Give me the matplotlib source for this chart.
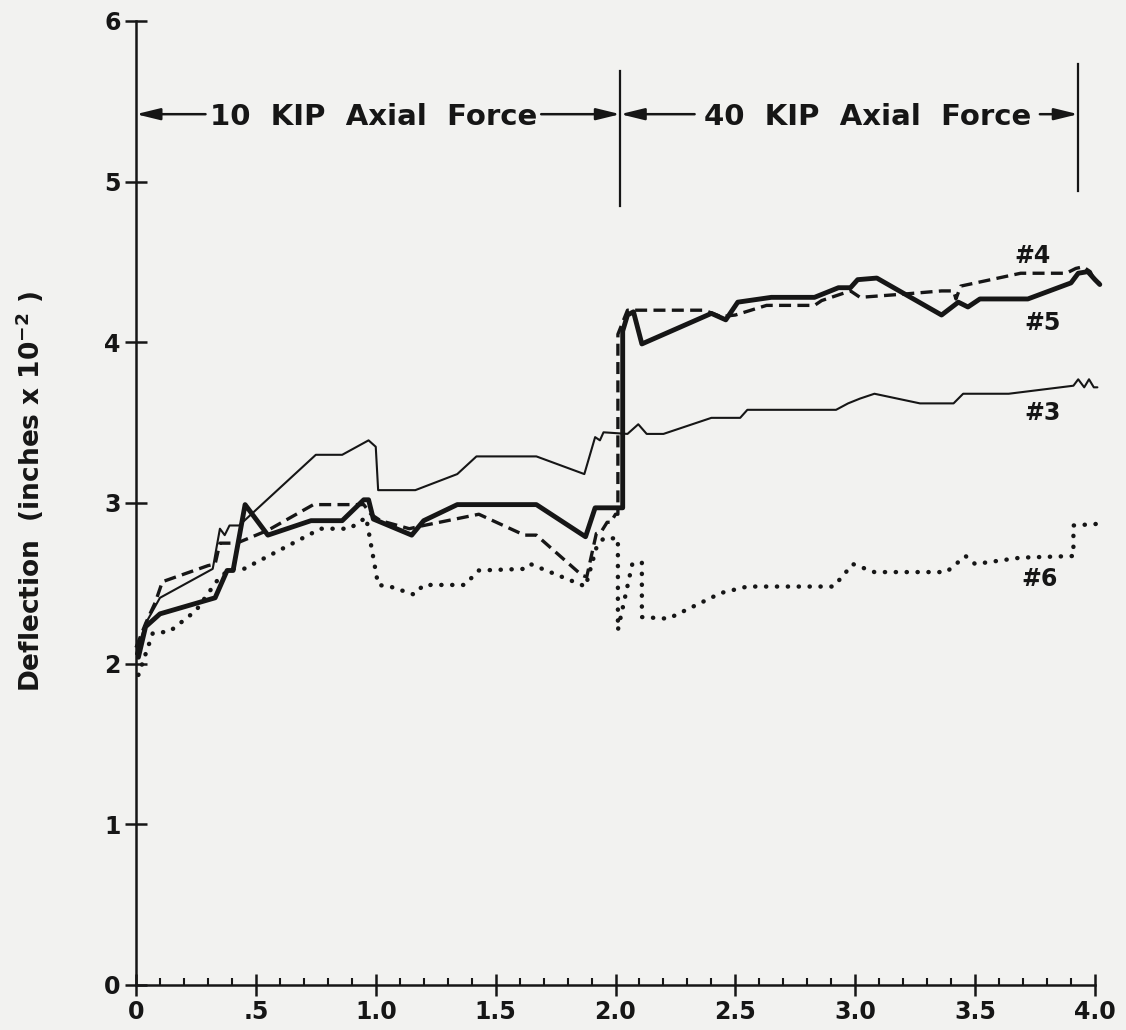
import matplotlib
matplotlib.use("Agg")
import matplotlib.pyplot as plt
from matplotlib.ticker import MultipleLocator, FixedLocator

# ---- data: deflection (inches x 1e-2) versus abscissa ----
x3 = [0.00, 0.04, 0.10, 0.32, 0.35, 0.37, 0.39, 0.43, 0.75, 0.86, 0.97, 1.00, 1.01,
      1.165, 1.34, 1.42, 1.67, 1.87, 1.915, 1.935, 1.95, 2.05, 2.095, 2.13, 2.20,
      2.40, 2.52, 2.55, 2.92, 2.97, 3.02, 3.08, 3.27, 3.41, 3.45, 3.64, 3.91, 3.93,
      3.955, 3.975, 3.995, 4.01]
y3 = [2.06, 2.25, 2.41, 2.59, 2.84, 2.80, 2.86, 2.86, 3.30, 3.30, 3.39, 3.35, 3.08,
      3.08, 3.18, 3.29, 3.29, 3.18, 3.41, 3.39, 3.44, 3.43, 3.49, 3.43, 3.43,
      3.53, 3.53, 3.58, 3.58, 3.62, 3.65, 3.68, 3.62, 3.62, 3.68, 3.68, 3.73, 3.77,
      3.72, 3.77, 3.72, 3.72]

x4 = [0.00, 0.04, 0.08, 0.11, 0.30, 0.33, 0.35, 0.42, 0.55, 0.74, 0.95, 0.98, 1.02,
      1.14, 1.20, 1.43, 1.62, 1.67, 1.86, 1.88, 1.92, 1.94, 1.965, 1.98, 2.00, 2.01,
      2.01, 2.05, 2.37, 2.44, 2.50, 2.63, 2.83, 2.86, 2.98, 3.02, 3.20, 3.36, 3.41,
      3.42, 3.44, 3.69, 3.88, 3.92, 3.95, 3.98, 4.00, 4.02]
y4 = [2.10, 2.25, 2.38, 2.51, 2.61, 2.62, 2.75, 2.75, 2.83, 2.99, 2.99, 2.93, 2.89,
      2.84, 2.86, 2.93, 2.80, 2.80, 2.55, 2.54, 2.81, 2.82, 2.88, 2.88, 2.93, 2.93,
      4.05, 4.20, 4.20, 4.16, 4.17, 4.23, 4.23, 4.26, 4.32, 4.28, 4.30, 4.32, 4.32,
      4.27, 4.35, 4.43, 4.43, 4.46, 4.47, 4.44, 4.38, 4.37]

x5 = [0.01, 0.04, 0.10, 0.33, 0.38, 0.405, 0.455, 0.55, 0.73, 0.86, 0.95, 0.97, 0.99,
      1.15, 1.20, 1.34, 1.67, 1.875, 1.915, 2.03, 2.03, 2.05, 2.075, 2.11, 2.40,
      2.46, 2.51, 2.65, 2.83, 2.93, 2.98, 3.01, 3.09, 3.36, 3.43, 3.47, 3.52, 3.72,
      3.90, 3.93, 3.97, 4.00, 4.02]
y5 = [2.04, 2.23, 2.31, 2.41, 2.58, 2.58, 2.99, 2.80, 2.89, 2.89, 3.02, 3.02, 2.90,
      2.80, 2.89, 2.99, 2.99, 2.79, 2.97, 2.97, 4.07, 4.17, 4.19, 3.99, 4.18,
      4.14, 4.25, 4.28, 4.28, 4.34, 4.34, 4.39, 4.40, 4.17, 4.25, 4.22, 4.27, 4.27,
      4.37, 4.43, 4.44, 4.39, 4.36]

x6 = [0.01, 0.07, 0.14, 0.25, 0.34, 0.39, 0.45, 0.77, 0.89, 0.96, 1.01, 1.06, 1.16,
      1.20, 1.37, 1.43, 1.62, 1.645, 1.81, 1.875, 1.92, 1.95, 2.01, 2.01, 2.07, 2.11,
      2.11, 2.22, 2.44, 2.55, 2.91, 2.99, 3.08, 3.38, 3.46, 3.50, 3.69, 3.91, 3.91,
      4.01]
y6 = [1.93, 2.19, 2.20, 2.33, 2.52, 2.59, 2.59, 2.84, 2.84, 2.91, 2.49, 2.48, 2.43,
      2.49, 2.49, 2.58, 2.59, 2.62, 2.52, 2.48, 2.72, 2.78, 2.78, 2.21, 2.62, 2.63,
      2.29, 2.28, 2.44, 2.48, 2.48, 2.62, 2.57, 2.57, 2.67, 2.62, 2.66, 2.67, 2.86,
      2.87]

curve_labels = ["#4", "#5", "#3", "#6"]
curve_label_pos = [(3.74, 4.54), (3.78, 4.12), (3.78, 3.56), (3.77, 2.53)]

x_ticks = [0, 0.5, 1.0, 1.5, 2.0, 2.5, 3.0, 3.5, 4.0]
x_ticklabels = ["0", ".5", "1.0", "1.5", "2.0", "2.5", "3.0", "3.5", "4.0"]
y_ticks = [0, 1, 2, 3, 4, 5, 6]
y_ticklabels = ["0", "1", "2", "3", "4", "5", "6"]

phase_labels = ["10  KIP  Axial  Force", "40  KIP  Axial  Force"]
phase_bounds = [0.0, 2.02, 3.93]

# ---- styling ----
ink = "#161616"
paper = "#f2f2f0"
plt.rcParams["font.family"] = ["DejaVu Sans"]
plt.rcParams["font.weight"] = "bold"

W, H = 1126, 1030
fig = plt.figure(figsize=(W / 100, H / 100), dpi=100, facecolor=paper)
ax = fig.add_axes([136 / W, 45 / H, (1095 - 136) / W, (985 - 21) / H])
ax.set_facecolor(paper)

ax.set_xlim(0, 4.0)
ax.set_ylim(0, 6)
for side in ("top", "right"):
    ax.spines[side].set_visible(False)
for side in ("left", "bottom"):
    ax.spines[side].set_linewidth(1.8)
    ax.spines[side].set_color(ink)

ax.xaxis.set_major_locator(FixedLocator(x_ticks))
ax.xaxis.set_minor_locator(MultipleLocator(0.1))
ax.set_xticklabels(x_ticklabels)
ax.yaxis.set_major_locator(FixedLocator(y_ticks))
ax.set_yticklabels(y_ticklabels)

ax.tick_params(axis="x", which="major", direction="inout", length=16, width=1.8,
               colors=ink, labelsize=17, pad=3)
ax.tick_params(axis="x", which="minor", direction="in", length=5, width=1.5,
               colors=ink)
ax.tick_params(axis="y", which="major", direction="inout", length=16, width=1.8,
               colors=ink, labelsize=17, pad=3)
for lab in ax.get_xticklabels() + ax.get_yticklabels():
    lab.set_fontweight("bold")

# ---- curves ----
common = dict(color=ink, clip_on=False, solid_joinstyle="round",
              solid_capstyle="round")
ax.plot(x3, y3, lw=1.5, **common)
ax.plot(x4, y4, lw=2.4, linestyle=(0, (3.6, 1.9)), color=ink, clip_on=False,
        dash_capstyle="butt")
ax.plot(x5, y5, lw=3.5, **common)
ax.plot(x6, y6, lw=3.2, linestyle=(0, (0.05, 2.4)), color=ink, clip_on=False,
        dash_capstyle="round")

for txt, (tx, ty) in zip(curve_labels, curve_label_pos):
    ax.text(tx, ty, txt, fontsize=17, fontweight="bold", color=ink,
            ha="center", va="center")

# ---- load-phase dimension markers ----
arrow_y = 5.42
ax.plot([phase_bounds[1]] * 2, [4.85, 5.69], color=ink, lw=1.6, clip_on=False)
ax.plot([phase_bounds[2]] * 2, [4.94, 5.73], color=ink, lw=1.6, clip_on=False)

arrow_kw = dict(arrowstyle="-|>,head_length=0.9,head_width=0.22", lw=1.8,
                color=ink, mutation_scale=16, shrinkA=0, shrinkB=0)
text_extent = [(0.29, 1.69), (2.33, 3.77)]
for i, label in enumerate(phase_labels):
    left, right = phase_bounds[i], phase_bounds[i + 1]
    t0, t1 = text_extent[i]
    ax.annotate("", xy=(left, arrow_y), xytext=(t0, arrow_y),
                arrowprops=arrow_kw, annotation_clip=False)
    ax.annotate("", xy=(right, arrow_y), xytext=(t1, arrow_y),
                arrowprops=arrow_kw, annotation_clip=False)
    ax.text((t0 + t1) / 2, 5.35, label, fontsize=21, fontweight="bold",
            color=ink, ha="center", va="baseline")

fig.text(30 / W, 1 - 492 / H, r"Deflection  (inches x 10$^{\mathbf{-2}}$ )",
         rotation=90, fontsize=19, fontweight="bold", color=ink,
         ha="center", va="center")

fig.savefig("out.png", dpi=100, facecolor=paper)
